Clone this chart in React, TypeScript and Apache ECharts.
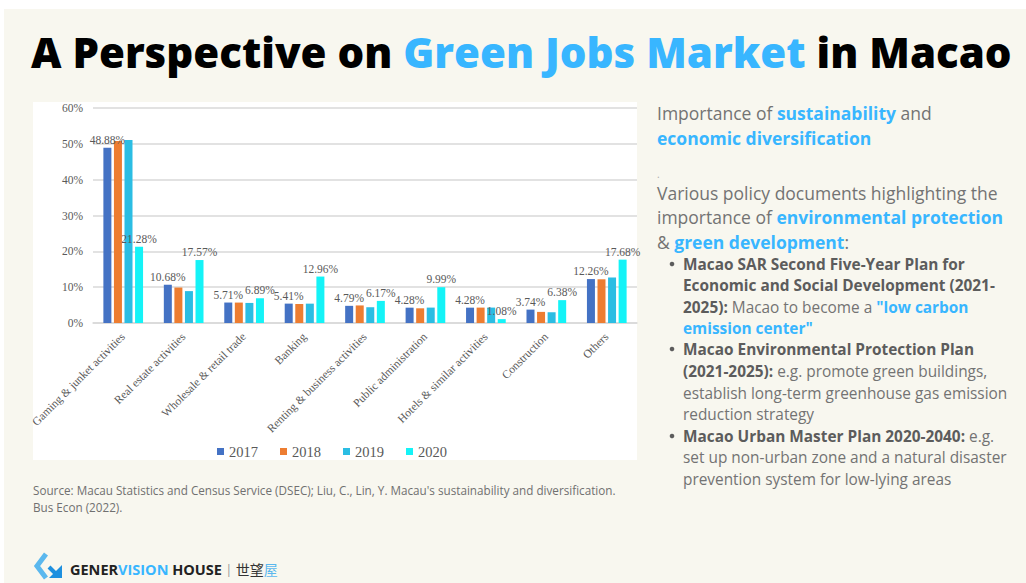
import React, { useEffect, useRef } from "react";
import * as echarts from "echarts";

const categories = [
  "Gaming & junket activities",
  "Real estate activities",
  "Wholesale & retail trade",
  "Banking",
  "Renting & business activities",
  "Public administration",
  "Hotels & similar activities",
  "Construction",
  "Others",
];
const years = ["2017", "2018", "2019", "2020"];
const v2017 = [48.88, 10.68, 5.71, 5.41, 4.79, 4.28, 4.28, 3.74, 12.26];
const v2018 = [50.8, 9.9, 5.7, 5.3, 4.9, 4.1, 4.3, 3.1, 12.2];
const v2019 = [51.1, 8.9, 5.6, 5.4, 4.4, 4.3, 4.3, 3.0, 12.7];
const v2020 = [21.28, 17.57, 6.89, 12.96, 6.17, 9.99, 1.08, 6.38, 17.68];
const yTicks = [0, 10, 20, 30, 40, 50, 60];
const colors = ["#4472C4", "#ED7D31", "#2BBDE3", "#14F3F7"];

const BLUE = "#38B6FF";
const GREY = "#737373";
const DARK = "#5C5C5C";
const FONT = "'Open Sans', 'Noto Sans', sans-serif";
const SERIF = "'Liberation Serif', 'DejaVu Serif', serif";

type Seg = [string, string];
const upper: [number, Seg[]][] = [
  [113, [["n", "Importance of "], ["b", "sustainability"], ["n", " and"]]],
  [138, [["b", "economic diversification"]]],
  [174, [["d", "."]]],
  [193, [["n", "Various policy documents highlighting the"]]],
  [217, [["n", "importance of "], ["b", "environmental protection"]]],
  [242, [["n", "& "], ["b", "green development"], ["n", ":"]]],
];
const bulletLines: [number, boolean, Seg[]][] = [
  [264, true, [["k", "Macao SAR Second Five-Year Plan for"]]],
  [285, false, [["k", "Economic and Social Development (2021-"]]],
  [307, false, [["k", "2025):"], ["s", " Macao to become a "], ["c", "\"low carbon"]]],
  [328, false, [["c", "emission center\""]]],
  [349, true, [["k", "Macao Environmental Protection Plan"]]],
  [371, false, [["k", "(2021-2025):"], ["s", " e.g. promote green buildings,"]]],
  [393, false, [["s", "establish long-term greenhouse gas emission"]]],
  [414, false, [["s", "reduction strategy"]]],
  [436, true, [["k", "Macao Urban Master Plan 2020-2040:"], ["s", " e.g."]]],
  [457, false, [["s", "set up non-urban zone and a natural disaster"]]],
  [479, false, [["s", "prevention system for low-lying areas"]]],
];

const richUpper = {
  n: { fill: GREY, fontSize: 17.5, fontFamily: FONT, fontWeight: 400 },
  b: { fill: BLUE, fontSize: 17.5, fontFamily: FONT, fontWeight: 700 },
  d: { fill: "#aaa", fontSize: 10, fontFamily: FONT, fontWeight: 400 },
};
const richBullet = {
  k: { fill: DARK, fontSize: 15.4, fontFamily: FONT, fontWeight: 700 },
  s: { fill: GREY, fontSize: 15.4, fontFamily: FONT, fontWeight: 400 },
  c: { fill: BLUE, fontSize: 15.4, fontFamily: FONT, fontWeight: 700 },
};

const toRich = (segs: Seg[]) =>
  segs.map(([k, t]) => `{${k}|${t}}`).join("");

export default function App() {
  const ref = useRef<HTMLDivElement>(null);
  useEffect(() => {
    if (!ref.current) return;
    const chart = echarts.init(ref.current, undefined, { renderer: "svg" });

    const textEls: any[] = [];
    upper.forEach(([y, segs]) => {
      textEls.push({
        type: "text",
        z: 10,
        style: { x: 657, y, text: toRich(segs), rich: richUpper, verticalAlign: "middle", align: "left" },
      });
    });
    bulletLines.forEach(([y, bullet, segs]) => {
      if (bullet) {
        textEls.push({
          type: "circle",
          z: 10,
          shape: { cx: 672, cy: y, r: 2.3 },
          style: { fill: DARK },
        });
      }
      textEls.push({
        type: "text",
        z: 10,
        style: { x: 683, y, text: toRich(segs), rich: richBullet, verticalAlign: "middle", align: "left" },
      });
    });

    const labelCfg = {
      show: true,
      position: "top",
      distance: 2,
      fontFamily: SERIF,
      fontSize: 11.5,
      color: "#595959",
      formatter: (p: any) => p.value.toFixed(2) + "%",
    };

    const seriesData = [v2017, v2018, v2019, v2020];
    const series = seriesData.map((d, i) => ({
      name: years[i],
      type: "bar",
      data: d,
      barWidth: 8,
      barGap: "32%",
      itemStyle: { color: colors[i] },
      label: i === 0 || i === 3 ? labelCfg : { show: false },
    }));

    chart.setOption({
      animation: false,
      backgroundColor: "#ffffff",
      graphic: [
        { type: "rect", z: -10, shape: { x: 4, y: 9, width: 1022, height: 574 }, style: { fill: "#F8F7EF" } },
        { type: "rect", z: -9, shape: { x: 33, y: 102, width: 604, height: 358 }, style: { fill: "#ffffff" } },
        {
          type: "text",
          z: 10,
          style: {
            x: 31,
            y: 51,
            text: "{k|A Perspective on }{g|Green Jobs Market}{k| in Macao}",
            verticalAlign: "middle",
            rich: {
              k: { fill: "#000000", fontSize: 42, fontWeight: 800, fontFamily: FONT },
              g: { fill: BLUE, fontSize: 42, fontWeight: 800, fontFamily: FONT },
            },
          },
        },
        {
          type: "text",
          z: 10,
          style: {
            x: 33,
            y: 481.5,
            text: "Source: Macau Statistics and Census Service (DSEC); Liu, C., Lin, Y. Macau's sustainability and diversification.\nBus Econ (2022).",
            fill: "#707070",
            fontSize: 11.7,
            fontFamily: FONT,
            lineHeight: 17,
            verticalAlign: "top",
          },
        },
        // logo icon
        { type: "polyline", z: 10, shape: { points: [[46, 554], [37, 566], [46, 578]] }, style: { stroke: "#5BB8EE", lineWidth: 5, fill: "none" } },
        { type: "polygon", z: 10, shape: { points: [[49, 578], [62, 578], [62, 565]] }, style: { fill: "#1E90DF" } },
        { type: "line", z: 10, shape: { x1: 49, y1: 567, x2: 57, y2: 575 }, style: { stroke: "#1E90DF", lineWidth: 4 } },
        {
          type: "text",
          z: 10,
          style: {
            x: 70,
            y: 569,
            text: "{a|GENER}{b|VISION}{a| HOUSE}{p| | }{c|世望}{d|屋}",
            verticalAlign: "middle",
            rich: {
              a: { fill: "#222222", fontSize: 14.5, fontWeight: 700, fontFamily: FONT },
              b: { fill: BLUE, fontSize: 14.5, fontWeight: 700, fontFamily: FONT },
              p: { fill: "#999999", fontSize: 13, fontFamily: FONT },
              c: { fill: "#333333", fontSize: 14, fontFamily: "'Noto Sans CJK TC'" },
              d: { fill: "#5BB8EE", fontSize: 14, fontFamily: "'Noto Sans CJK TC'" },
            },
          },
        },
        ...textEls,
      ],
      legend: {
        data: years,
        left: 212,
        top: 439,
        itemWidth: 7,
        itemHeight: 7,
        itemGap: 22,
        icon: "rect",
        textStyle: { fontFamily: SERIF, fontSize: 14.5, color: "#595959" },
      },
      grid: { left: 93, right: 389, top: 108, bottom: 260, containLabel: false },
      xAxis: {
        type: "category",
        data: categories,
        axisLine: { show: true, lineStyle: { color: "#D9D9D9", width: 1.5 } },
        axisTick: { show: false },
        axisLabel: { rotate: 45, interval: 0, margin: 12, fontFamily: SERIF, fontSize: 11.6, color: "#595959" },
      },
      yAxis: {
        type: "value",
        min: yTicks[0],
        max: yTicks[yTicks.length - 1],
        interval: 10,
        axisLine: { show: false },
        axisTick: { show: false },
        axisLabel: { formatter: "{value}%", margin: 10, fontFamily: SERIF, fontSize: 11.5, color: "#595959" },
        splitLine: { lineStyle: { color: "#D9D9D9", width: 1.5 } },
      },
      series,
    });
    return () => chart.dispose();
  }, []);
  return (
    <div
      ref={ref}
      style={{ position: "absolute", left: 0, top: 0, width: 1026, height: 583 }}
    />
  );
}
